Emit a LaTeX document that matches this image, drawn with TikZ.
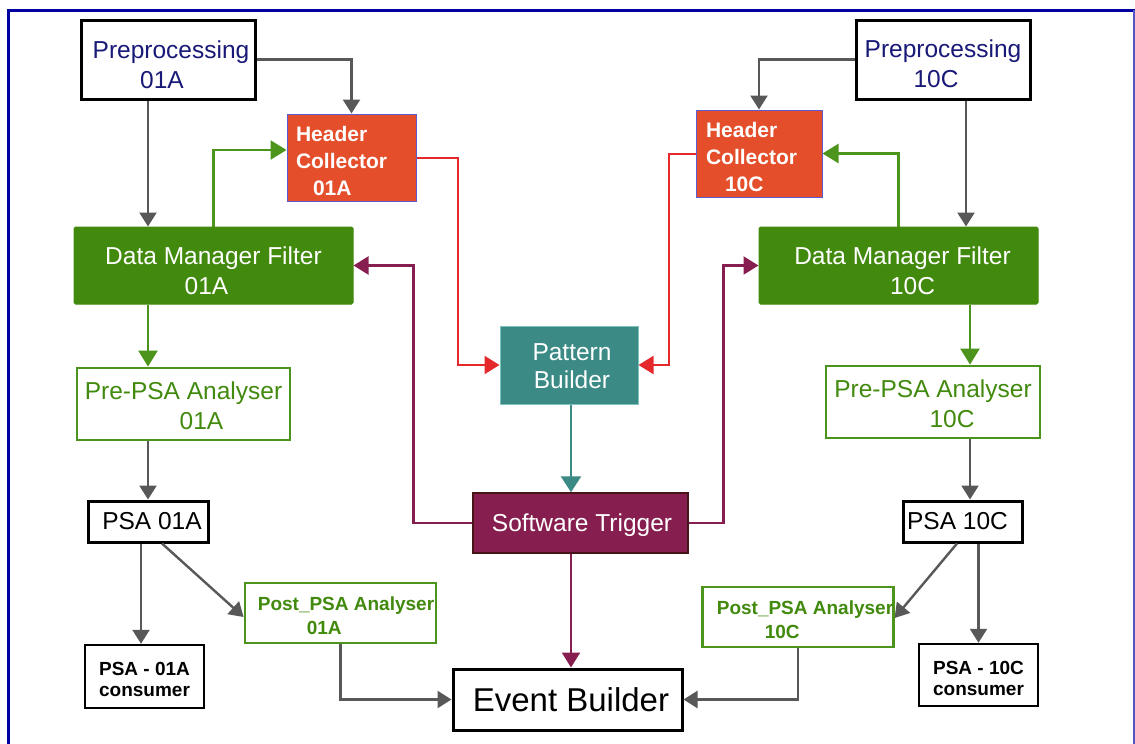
\documentclass[tikz,border=0pt]{standalone}
\usepackage{fontspec}
\setmainfont{Liberation Sans}
\usetikzlibrary{arrows.meta,calc}
\definecolor{navytext}{RGB}{25,25,120}
\definecolor{hcorange}{RGB}{228,78,42}
\definecolor{hcborder}{RGB}{90,90,210}
\definecolor{dmfgreen}{RGB}{66,138,14}
\definecolor{ppgreen}{RGB}{76,148,28}
\definecolor{tealfill}{RGB}{59,138,133}
\definecolor{tealborder}{RGB}{125,195,190}
\definecolor{stpurple}{RGB}{134,31,79}
\definecolor{stborder}{RGB}{70,20,25}
\definecolor{redarr}{RGB}{228,40,44}
\definecolor{grayarr}{RGB}{88,88,88}
\definecolor{frameblue}{RGB}{0,0,160}
\definecolor{frameright}{RGB}{85,85,200}
\newcommand{\lift}[1]{\rule{0pt}{#1}}
\tikzset{
  box/.style={inner sep=0pt, anchor=center},
  blackbox/.style={box, draw=black, line width=3pt, fill=white},
  prebox/.style={blackbox, text=navytext, align=center, font=\fontsize{24.5}{30}\selectfont},
  hcbox/.style={box, draw=hcborder, line width=1pt, fill=hcorange, text=white, align=left,
     font=\fontsize{21}{27}\selectfont\bfseries},
  dmfbox/.style={box, draw=dmfgreen, line width=1pt, fill=dmfgreen, rounded corners=1.5pt, text=white,
     align=center, font=\fontsize{24.5}{30}\selectfont},
  ppbox/.style={box, draw=ppgreen, line width=2.8pt, fill=white, text=dmfgreen, align=center,
     font=\fontsize{24.5}{30}\selectfont},
  postbox/.style={box, draw=ppgreen, line width=2.8pt, text=dmfgreen, align=left,
     font=\fontsize{19}{24}\selectfont\bfseries},
  psabox/.style={blackbox, align=center, font=\fontsize{24.5}{29}\selectfont},
  consbox/.style={box, draw=black, line width=2.5pt, fill=white, align=center,
     font=\fontsize{19}{21}\selectfont\bfseries},
  pbbox/.style={box, draw=tealborder, line width=1pt, fill=tealfill, text=white, align=center,
     font=\fontsize{24.5}{28}\selectfont},
  stbox/.style={box, draw=stborder, line width=1.5pt, fill=stpurple, text=white,
     font=\fontsize{24.5}{29}\selectfont},
  ebbox/.style={blackbox, font=\fontsize{33}{40}\selectfont},
  grayline/.style={-{Triangle[width=17pt,length=14pt]}, line width=2.4pt, draw=grayarr},
  greenline/.style={-{Triangle[width=19pt,length=16pt]}, line width=2.4pt, draw=ppgreen},
  redline/.style={-{Triangle[width=18pt,length=15pt]}, line width=2pt, draw=redarr},
  purpleline/.style={-{Triangle[width=18pt,length=15pt]}, line width=2.1pt, draw=stpurple},
  tealline/.style={-{Triangle[width=20pt,length=16pt]}, line width=2.6pt, draw=tealfill},
}
\begin{document}
\begin{tikzpicture}[x=1pt,y=-1pt]
\useasboundingbox (0,0) rectangle (1135,744);
\fill[white] (0,0) rectangle (1135,744);
\draw[frameblue, line width=3pt] (8,744) -- (8,10) -- (1135,10);
\draw[frameright, line width=1.5pt] (1134,10) -- (1134,744);

% nodes
\node[prebox, minimum width=174pt, minimum height=79pt] (pre1) at (168,59.5) {\lift{28pt}\hspace*{6pt}Preprocessing\\01A\hspace*{12pt}};
\node[prebox, minimum width=174pt, minimum height=79pt] (pre2) at (943,59.5) {\lift{27pt}Preprocessing\\10C\hspace*{14pt}};
\node[hcbox, minimum width=129pt, minimum height=87pt, text width=111pt] (hc1) at (351.5,157.5) {\lift{22pt}Header\\Collector\\\hspace*{17pt}01A};
\node[hcbox, minimum width=126pt, minimum height=87pt, text width=106pt] (hc2) at (759,153.5) {\lift{22pt}Header\\Collector\\\hspace*{19pt}10C};
\node[dmfbox, minimum width=279pt, minimum height=77pt] (dmf1) at (213.5,265.5) {\lift{29pt}Data Manager Filter\\01A\hspace*{14pt}};
\node[dmfbox, minimum width=279pt, minimum height=77pt] (dmf2) at (898.5,265.5) {\lift{29pt}\hspace*{8pt}Data Manager Filter\\\hspace*{28pt}10C};
\node[ppbox, minimum width=213pt, minimum height=72pt] (pp1) at (183.5,404) {\lift{21pt}Pre-PSA Analyser\\\hspace*{36pt}01A};
\node[ppbox, minimum width=214pt, minimum height=72pt] (pp2) at (933,402) {\lift{21pt}Pre-PSA Analyser\\\hspace*{38pt}10C};
\node[pbbox, minimum width=138pt, minimum height=78pt] (pb) at (569,365) {\lift{19pt}\hspace*{6pt}Pattern\\\hspace*{6pt}Builder};
\node[stbox, minimum width=215pt, minimum height=60pt] (st) at (580.5,523) {\lift{22pt}\hspace*{3pt}Software Trigger};
\node[psabox, minimum width=120pt, minimum height=41pt] (psa1) at (148,521.5) {\hspace*{8pt}PSA 01A};
\node[psabox, minimum width=119pt, minimum height=41pt] (psa2) at (962.5,521.5) {PSA 10C\hspace*{10pt}};
\node[consbox, minimum width=119pt, minimum height=63pt] (cons1) at (144.5,676.5) {\lift{20pt}PSA - 01A\\consumer};
\node[consbox, minimum width=119pt, minimum height=62pt] (cons2) at (978.5,675) {\lift{20pt}PSA - 10C\\consumer};
\node[postbox, minimum width=191pt, minimum height=60pt] (post1) at (340.5,613) {\lift{20pt}\hspace*{11pt}Post\_PSA Analyser\\\hspace*{60pt}01A};
\node[postbox, minimum width=190pt, minimum height=60pt] (post2) at (798,617) {\lift{19pt}\hspace*{14pt}Post\_PSA Analyser\\\hspace*{62pt}10C};
\node[ebbox, minimum width=229pt, minimum height=61pt] (eb) at (567.5,699.5) {\hspace*{7pt}Event Builder};

% gray connectors
\draw[grayline] (pre1.east) -| (hc1.north);
\draw[grayline] ([xshift=-20pt]pre1.south) -- ([xshift=-65.5pt]dmf1.north);
\draw[grayline] (pre2.west) -| (hc2.north);
\draw[grayline] ([xshift=23pt]pre2.south) -- ([xshift=67.5pt]dmf2.north);
\draw[grayline] (pp1.south -| psa1.north) -- (psa1.north);
\draw[grayline] ([xshift=7.5pt]psa2.north |- pp2.south) -- ([xshift=7.5pt]psa2.north);
\draw[grayline] ([xshift=-7pt]psa1.south) -- ([xshift=-3.5pt]cons1.north);
\draw[grayline] ([xshift=14pt]psa1.south) -- ([yshift=-4pt]post1.west);
\draw[grayline] (psa2.south -| cons2.north) -- (cons2.north);
\draw[grayline] ([xshift=-5.5pt]psa2.south) -- ([yshift=-1pt]post2.east);
\draw[grayline] (post1.south) |- (eb.west);
\draw[grayline] (post2.south) |- (eb.east);

% green connectors
\draw[greenline] (dmf1.north) |- ([yshift=7.5pt]hc1.west);
\draw[greenline] (dmf2.north) |- (hc2.east);
\draw[greenline] ([xshift=-65.5pt]dmf1.south) -- ([xshift=-35.5pt]pp1.north);
\draw[greenline] ([xshift=71.5pt]dmf2.south) -- ([xshift=37pt]pp2.north);

% red connectors
\draw[redline] (hc1.east) -| ([xshift=-42pt]pb.west) -- (pb.west);
\draw[redline] (hc2.west) -| ([xshift=30pt]pb.east) -- (pb.east);

% teal connector
\draw[tealline] ([xshift=2pt]pb.south) -- ([xshift=-9.5pt]st.north);

% purple connectors
\draw[purpleline] (st.west) -| ([xshift=60pt]dmf1.east) -- (dmf1.east);
\draw[purpleline] (st.east) -| ([xshift=-35pt]dmf2.west) -- (dmf2.west);
\draw[purpleline] ([xshift=-9.5pt]st.south) -- ([xshift=3.5pt]eb.north);
\end{tikzpicture}
\end{document}
